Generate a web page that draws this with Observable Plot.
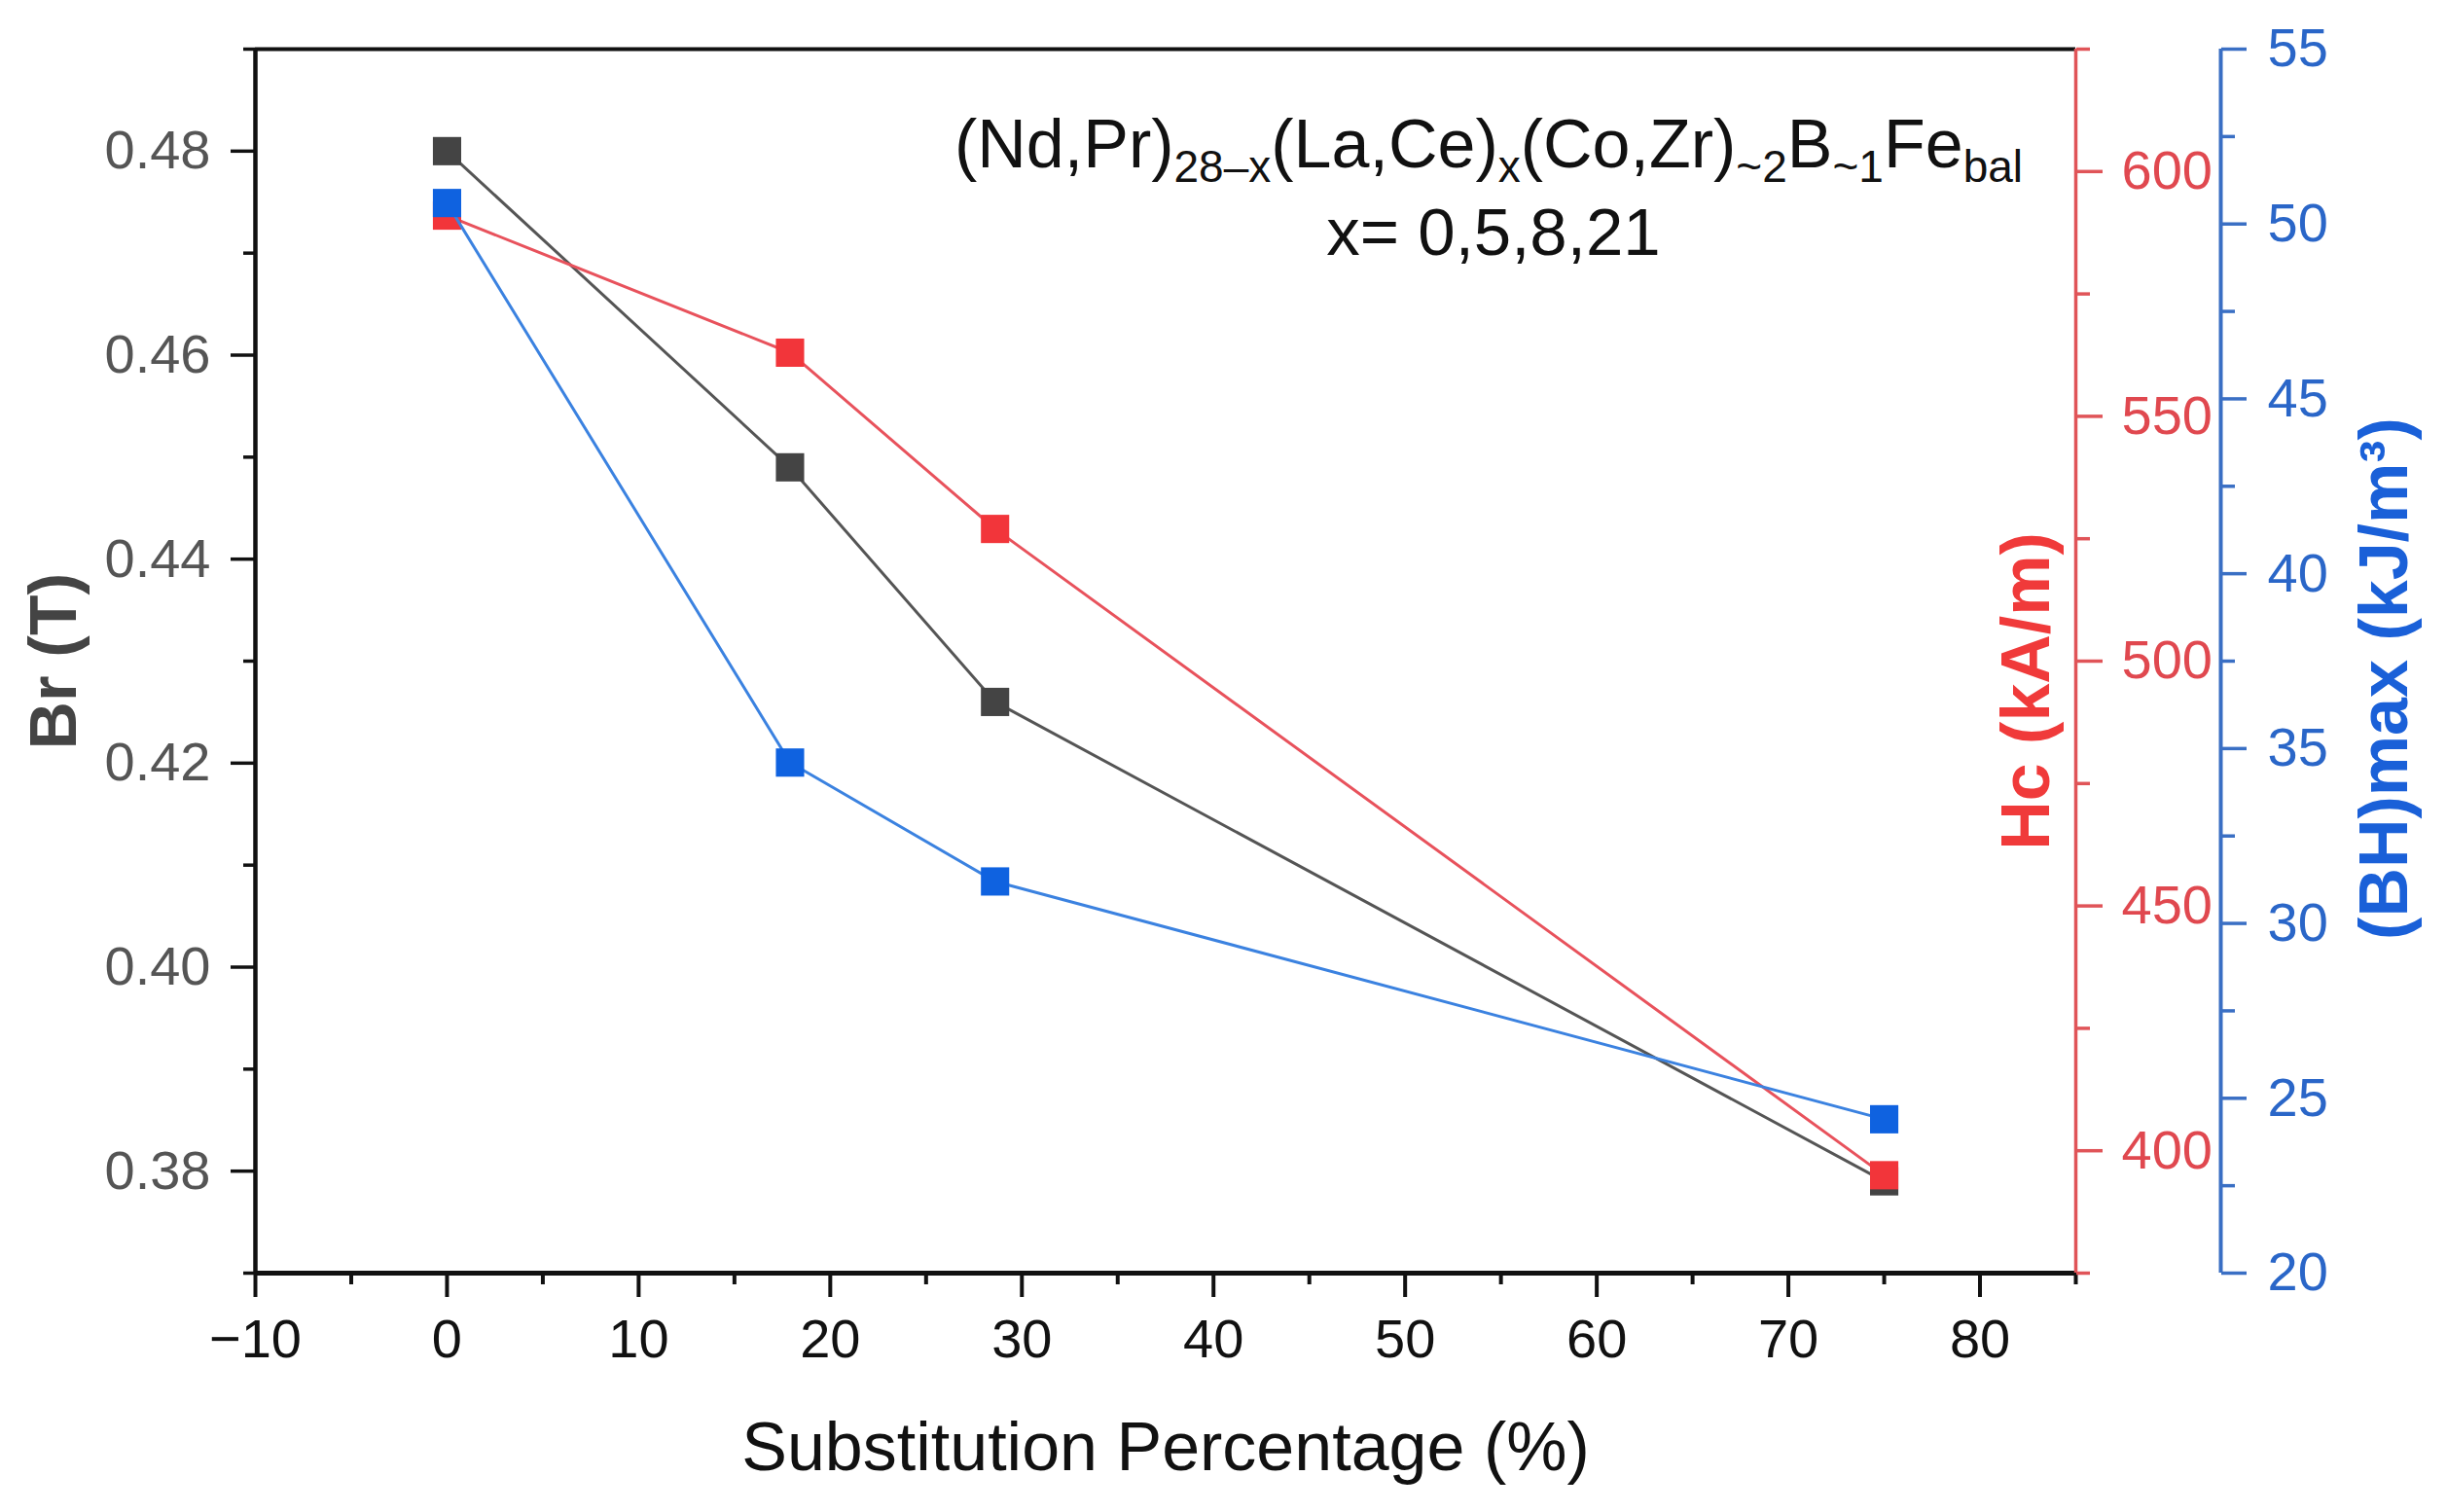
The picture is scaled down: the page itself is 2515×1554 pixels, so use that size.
<!DOCTYPE html>
<html>
<head>
<meta charset="utf-8">
<script src="https://cdn.jsdelivr.net/npm/d3@7"></script>
<script src="https://cdn.jsdelivr.net/npm/@observablehq/plot@0.6"></script>
<style>
  body { margin: 0; background: #fff; }
  #chart { position: relative; width: 2515px; height: 1554px; }
  #chart svg { position: absolute; left: 0; top: 0; }
</style>
</head>
<body>
<div id="chart"></div>
<script>
// datos
const substitution = [0, 17.9, 28.6, 75]
const br = [0.48, 0.449, 0.426, 0.379]
const hc = [591, 563, 527, 395]
const bhmax = [50.6, 34.6, 31.2, 24.4]

// ticks
const xTicks = [-10, 0, 10, 20, 30, 40, 50, 60, 70, 80]
const xMinor = [-5, 5, 15, 25, 35, 45, 55, 65, 75, 85]
const brTicks = [0.38, 0.40, 0.42, 0.44, 0.46, 0.48]
const brMinor = [0.37, 0.39, 0.41, 0.43, 0.45, 0.47, 0.49]
const hcTicks = [400, 450, 500, 550, 600]
const hcMinor = [375, 425, 475, 525, 575, 625]
const bhTicks = [20, 25, 30, 35, 40, 45, 50, 55]
const bhMinor = [22.5, 27.5, 32.5, 37.5, 42.5, 47.5, 52.5]

const rows = substitution.map((x, i) => ({ x, br: br[i], hc: hc[i], bh: bhmax[i] }))

const font = '"Liberation Sans", Arial, sans-serif'
const red = '#e05458'
const blue = '#3a6fc4'
const noText = () => ''

// mismo marco para las tres capas
const base = {
  width: 2515,
  height: 1554,
  marginLeft: 262,
  marginRight: 382,
  marginTop: 50,
  marginBottom: 246,
  style: { background: 'none', fontFamily: font, overflow: 'visible' },
}

// capa 1: Br (eje izquierdo + eje x)
const chartBr = Plot.plot({
  ...base,
  x: { domain: [-10, 85] },
  y: { domain: [0.37, 0.49] },
  marks: [
    Plot.ruleY([0.49], { stroke: '#111', strokeWidth: 4 }),
    Plot.ruleY([0.37], { stroke: '#111', strokeWidth: 5 }),
    Plot.ruleX([-10], { stroke: '#111', strokeWidth: 4.5 }),
    Plot.axisX(xTicks, { anchor: 'bottom', tickSize: 25, tickPadding: 22, strokeWidth: 4, stroke: '#111', fill: '#111', fontSize: 56, label: null }),
    Plot.axisX(xMinor, { anchor: 'bottom', tickSize: 12, strokeWidth: 4, stroke: '#111', tickFormat: noText, label: null }),
    Plot.axisY(brTicks, { anchor: 'left', tickSize: 25, tickPadding: 21, strokeWidth: 3.5, stroke: '#111', fill: '#555', fontSize: 56, tickFormat: d3.format('.2f'), label: null }),
    Plot.axisY(brMinor, { anchor: 'left', tickSize: 12, strokeWidth: 3.5, stroke: '#111', tickFormat: noText, label: null }),
    Plot.line(rows, { x: 'x', y: 'br', stroke: '#555', strokeWidth: 3 }),
    Plot.dot(rows, { x: 'x', y: 'br', symbol: 'square', r: 16.4, fill: '#444' }),
    Plot.text(['Br (T)'], { frameAnchor: 'left', textAnchor: 'middle', lineAnchor: 'middle', dx: -206, rotate: -90, fontSize: 68, fontWeight: 'bold', fill: '#444' }),
    Plot.text(['Substitution Percentage (%)'], { frameAnchor: 'bottom', textAnchor: 'middle', lineAnchor: 'middle', dy: 180, fontSize: 70, fill: '#111' }),
  ],
})

// capa 2: Hc (eje rojo)
const chartHc = Plot.plot({
  ...base,
  x: { domain: [-10, 85], axis: null },
  y: { domain: [375, 625] },
  marks: [
    Plot.ruleX([85], { stroke: red, strokeWidth: 3.5 }),
    Plot.axisY(hcTicks, { anchor: 'right', tickSize: 27, tickPadding: 20, strokeWidth: 3.5, stroke: red, fill: '#e0484f', fontSize: 56, label: null }),
    Plot.axisY(hcMinor, { anchor: 'right', tickSize: 14, strokeWidth: 3.5, stroke: red, tickFormat: noText, label: null }),
    Plot.line(rows, { x: 'x', y: 'hc', stroke: '#e8525c', strokeWidth: 3 }),
    Plot.dot(rows, { x: 'x', y: 'hc', symbol: 'square', r: 16.4, fill: '#f2353a' }),
    Plot.text(['Hc (kA/m)'], { frameAnchor: 'right', textAnchor: 'middle', lineAnchor: 'middle', dx: -50, dy: 31, rotate: -90, fontSize: 70, fontWeight: 'bold', fill: '#f03a3a' }),
  ],
})

// capa 3: (BH)max (eje azul, desplazado a la derecha)
const chartBh = Plot.plot({
  ...base,
  x: { domain: [-10, 85], axis: null },
  y: { domain: [20, 55] },
  marks: [
    Plot.ruleX([85], { dx: 149, stroke: blue, strokeWidth: 4 }),
    Plot.axisY(bhTicks, { anchor: 'right', dx: 149, tickSize: 26, tickPadding: 22, strokeWidth: 3.5, stroke: blue, fill: '#2a66c8', fontSize: 56, label: null }),
    Plot.axisY(bhMinor, { anchor: 'right', dx: 149, tickSize: 14, strokeWidth: 3.5, stroke: blue, tickFormat: noText, label: null }),
    Plot.line(rows, { x: 'x', y: 'bh', stroke: '#3b82e0', strokeWidth: 3 }),
    Plot.dot(rows, { x: 'x', y: 'bh', symbol: 'square', r: 16.4, fill: '#0f62e0' }),
    Plot.text(['(BH)max (kJ/m³)'], { frameAnchor: 'right', textAnchor: 'middle', lineAnchor: 'middle', dx: 318, dy: 18, rotate: -90, fontSize: 70, fontWeight: 'bold', fill: '#1a60d8' }),
  ],
})

// fórmula con subíndices
const formula = [
  ['(Nd,Pr)', false], ['28–x', true], ['(La,Ce)', false], ['x', true],
  ['(Co,Zr)', false], ['~2', true], ['B', false], ['~1', true],
  ['Fe', false], ['bal', true],
]
const note = d3.select(chartBr).append('g')
  .attr('font-family', font)
  .attr('fill', '#111')
  .attr('text-anchor', 'middle')
const line1 = note.append('text').attr('x', 1530).attr('y', 172).attr('font-size', 70)
let down = false
formula.forEach(([t, sub]) => {
  const span = line1.append('tspan').text(t)
  if (sub && !down) span.attr('dy', 15)
  if (!sub && down) span.attr('dy', -15)
  if (sub) span.attr('font-size', 46)
  down = sub
})
note.append('text').attr('x', 1535).attr('y', 262).attr('font-size', 69).text('x= 0,5,8,21')

const div = d3.select('#chart')
div.append(() => chartBr)
div.append(() => chartHc)
div.append(() => chartBh)
</script>
</body>
</html>
